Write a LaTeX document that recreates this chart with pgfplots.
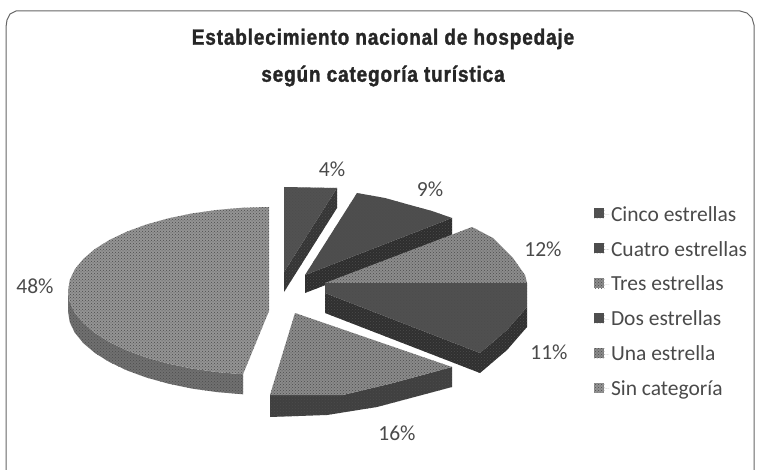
\documentclass[border=0pt]{standalone}
\usepackage{pgfplots}
\pgfplotsset{compat=1.18}
\usepackage{fontspec}
\usetikzlibrary{patterns}
\setmainfont{Carlito}
\newfontfamily\titfont[FakeStretch=0.86,LetterSpace=4,FakeBold=1.5]{Liberation Sans Bold}
\definecolor{sinT}{HTML}{949494}\definecolor{sinS}{HTML}{707070}
\definecolor{unaT}{HTML}{8A8A8A}\definecolor{unaS}{HTML}{404040}
\definecolor{dosT}{HTML}{505050}\definecolor{dosS}{HTML}{303030}
\definecolor{tresT}{HTML}{8C8C8C}
\definecolor{cuaT}{HTML}{4E4E4E}\definecolor{cuaS}{HTML}{2E2E2E}
\definecolor{cinT}{HTML}{525252}\definecolor{cinS}{HTML}{363636}
\definecolor{txt}{HTML}{4A4A4A}
\tikzset{tex/.style={postaction={pattern=crosshatch dots, pattern color=black!70}}}
\begin{document}
\begin{tikzpicture}
\begin{axis}[
  scale only axis, width=757pt, height=470pt,
  xmin=0, xmax=757, ymin=0, ymax=470, y dir=reverse,
  hide axis, clip=true,
  legend cell align=left,
  legend image code/.code={\path (0cm,0cm) -- (0.52cm,0cm);\fill[#1,draw=none] (0cm,-0.14cm) rectangle (0.36cm,0.21cm);},
  legend style={at={(axis cs:594,204)}, anchor=north west, draw=none, fill=none,
    font=\fontsize{21.5}{22}\selectfont\color{txt}, row sep=14.5pt, inner sep=0pt},
  every axis plot/.append style={draw=none, line width=0pt},
]
% frame
\addplot[draw=gray!80!black, line width=1pt, forget plot] coordinates
 {(6,470)(6,27)(7,20)(10,14)(16,11)(25,11)(740,11)(747,13)(752,18)(754,25)(754,470)};
% Cinco estrellas
\addplot[fill=cinS, tex, forget plot] coordinates {(337,188)(337,208)(284,292)(284,272)} -- cycle;
\addplot[fill=cinT, tex] coordinates {(284,187)(337,188)(284,272)} -- cycle;
\addlegendentry{Cinco estrellas}
% Cuatro estrellas
\addplot[fill=cuaS, tex, forget plot] coordinates {(452,218)(452,236)(305,293)(305,275)} -- cycle;
\addplot[fill=cuaT, tex] coordinates {(357,193)(385,198)(410,205)(432,211)(452,218)(305,275)} -- cycle;
\addlegendentry{Cuatro estrellas}
% Tres estrellas
\addplot[fill=tresT, tex] coordinates {(325,283)(472,227)(493,238)(513,258)(525,275)(527,283)} -- cycle;
\addlegendentry{Tres estrellas}
% Dos estrellas
\addplot[fill=dosS, tex, forget plot] coordinates {(325,293)(480,353)(507,330)(527,307)(527,327)(507,350)(480,373)(325,313)} -- cycle;
\addplot[fill=dosT, tex] coordinates {(325,283)(527,283)(527,307)(507,330)(480,353)(325,293)} -- cycle;
\addlegendentry{Dos estrellas}
% Una estrella
\addplot[fill=unaS, tex, forget plot] coordinates {(270,395)(343,395)(393,383)(452,367)(452,387)(377,407)(327,415)(270,417)} -- cycle;
\addplot[fill=unaT, tex] coordinates {(295,313)(452,367)(393,383)(343,395)(270,395)} -- cycle;
\addlegendentry{Una estrella}
% Sin categoria
\addplot[fill=sinS, tex, forget plot] coordinates {(68,291)(69.7,302)(74.8,312.7)(83.3,323.1)(94.9,333)(109.5,342.1)(126.9,350.4)(146.6,357.6)(168.5,363.7)(192.1,368.6)(217,372.1)(243,374.3)(243,394.3)(217,392.1)(192.1,388.6)(168.5,383.7)(146.6,377.6)(126.9,370.4)(109.5,362.1)(94.9,353)(83.3,343.1)(74.8,332.7)(69.7,322)(68,311)} -- cycle;
\addplot[fill=sinT, tex] coordinates {(269,207)(242.8,207.7)(217,209.9)(192.1,213.4)(168.5,218.3)(146.6,224.4)(126.9,231.6)(109.5,239.9)(94.9,249)(83.3,258.9)(74.8,269.3)(69.7,280)(68,291)(69.7,302)(74.8,312.7)(83.3,323.1)(94.9,333)(109.5,342.1)(126.9,350.4)(146.6,357.6)(168.5,363.7)(192.1,368.6)(217,372.1)(243,374.3)(269,311)(269,291)} -- cycle;
\addlegendentry{Sin categoría}
% labels
\node[font=\fontsize{21.5}{22}\selectfont, text=txt] at (axis cs:332,169) {4\%};
\node[font=\fontsize{21.5}{22}\selectfont, text=txt] at (axis cs:430,189) {9\%};
\node[font=\fontsize{21.5}{22}\selectfont, text=txt] at (axis cs:543,249) {12\%};
\node[font=\fontsize{21.5}{22}\selectfont, text=txt] at (axis cs:549,352) {11\%};
\node[font=\fontsize{21.5}{22}\selectfont, text=txt] at (axis cs:397,433) {16\%};
\node[font=\fontsize{21.5}{22}\selectfont, text=txt] at (axis cs:35,286) {48\%};
\node[font=\titfont\fontsize{22}{24}\selectfont, text=black!85] at (axis cs:383,39) {Establecimiento nacional de hospedaje};
\node[font=\titfont\fontsize{22}{24}\selectfont, text=black!85] at (axis cs:383,76) {según categoría turística};
\end{axis}
\path (0,0) rectangle (757pt,470pt);
\end{tikzpicture}
\end{document}
